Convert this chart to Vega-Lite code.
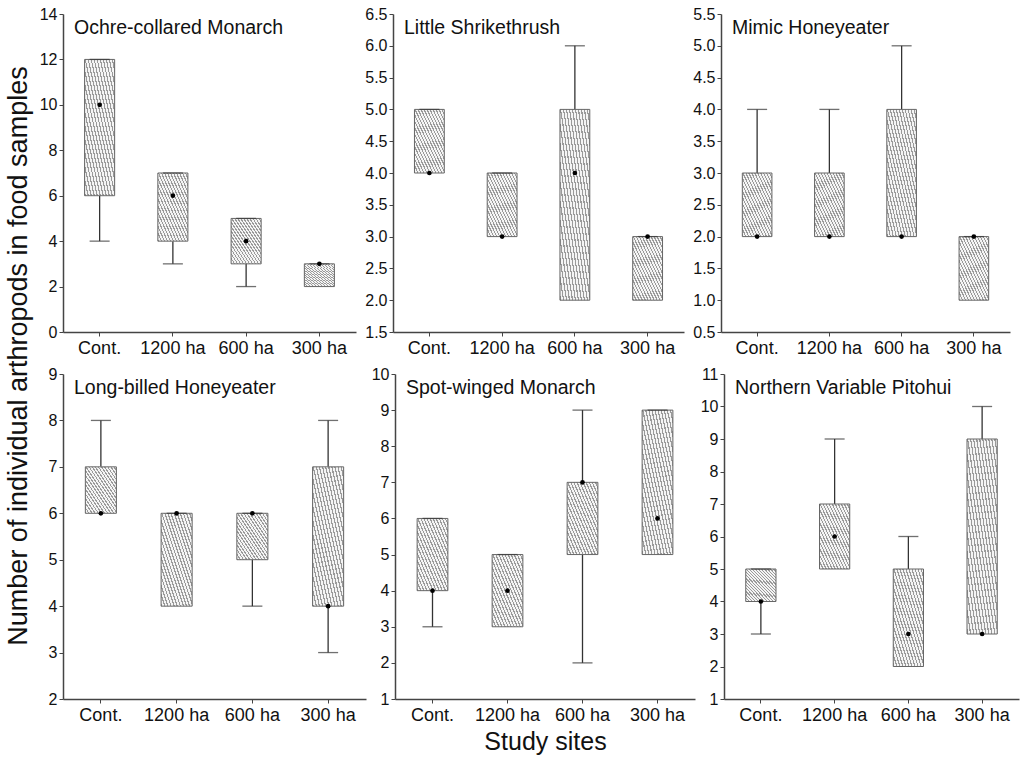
{
  "$schema": "https://vega.github.io/schema/vega-lite/v6.json",
  "background": "white",
  "padding": {"left": 5, "top": 6, "right": 5, "bottom": 5},
  "title": {"text": "Number of individual arthropods in food samples", "orient": "left", "anchor": "middle", "frame": "bounds", "fontSize": 27, "font": "Liberation Sans", "fontWeight": "normal", "color": "#111", "offset": 6, "dx": 24},
  "data": {"values": [
    {"species": "Ochre-collared Monarch", "site": "Cont.", "min": 4, "q1": 6, "median": 10, "q3": 12, "max": 12},
    {"species": "Ochre-collared Monarch", "site": "1200 ha", "min": 3, "q1": 4, "median": 6, "q3": 7, "max": 7},
    {"species": "Ochre-collared Monarch", "site": "600 ha", "min": 2, "q1": 3, "median": 4, "q3": 5, "max": 5},
    {"species": "Ochre-collared Monarch", "site": "300 ha", "min": 2, "q1": 2, "median": 3, "q3": 3, "max": 3},
    {"species": "Little Shrikethrush", "site": "Cont.", "min": 4, "q1": 4, "median": 4, "q3": 5, "max": 5},
    {"species": "Little Shrikethrush", "site": "1200 ha", "min": 3, "q1": 3, "median": 3, "q3": 4, "max": 4},
    {"species": "Little Shrikethrush", "site": "600 ha", "min": 2, "q1": 2, "median": 4, "q3": 5, "max": 6},
    {"species": "Little Shrikethrush", "site": "300 ha", "min": 2, "q1": 2, "median": 3, "q3": 3, "max": 3},
    {"species": "Mimic Honeyeater", "site": "Cont.", "min": 2, "q1": 2, "median": 2, "q3": 3, "max": 4},
    {"species": "Mimic Honeyeater", "site": "1200 ha", "min": 2, "q1": 2, "median": 2, "q3": 3, "max": 4},
    {"species": "Mimic Honeyeater", "site": "600 ha", "min": 2, "q1": 2, "median": 2, "q3": 4, "max": 5},
    {"species": "Mimic Honeyeater", "site": "300 ha", "min": 1, "q1": 1, "median": 2, "q3": 2, "max": 2},
    {"species": "Long-billed Honeyeater", "site": "Cont.", "min": 6, "q1": 6, "median": 6, "q3": 7, "max": 8},
    {"species": "Long-billed Honeyeater", "site": "1200 ha", "min": 4, "q1": 4, "median": 6, "q3": 6, "max": 6},
    {"species": "Long-billed Honeyeater", "site": "600 ha", "min": 4, "q1": 5, "median": 6, "q3": 6, "max": 6},
    {"species": "Long-billed Honeyeater", "site": "300 ha", "min": 3, "q1": 4, "median": 4, "q3": 7, "max": 8},
    {"species": "Spot-winged Monarch", "site": "Cont.", "min": 3, "q1": 4, "median": 4, "q3": 6, "max": 6},
    {"species": "Spot-winged Monarch", "site": "1200 ha", "min": 3, "q1": 3, "median": 4, "q3": 5, "max": 5},
    {"species": "Spot-winged Monarch", "site": "600 ha", "min": 2, "q1": 5, "median": 7, "q3": 7, "max": 9},
    {"species": "Spot-winged Monarch", "site": "300 ha", "min": 5, "q1": 5, "median": 6, "q3": 9, "max": 9},
    {"species": "Northern Variable Pitohui", "site": "Cont.", "min": 3, "q1": 4, "median": 4, "q3": 5, "max": 5},
    {"species": "Northern Variable Pitohui", "site": "1200 ha", "min": 5, "q1": 5, "median": 6, "q3": 7, "max": 9},
    {"species": "Northern Variable Pitohui", "site": "600 ha", "min": 2, "q1": 2, "median": 3, "q3": 5, "max": 6},
    {"species": "Northern Variable Pitohui", "site": "300 ha", "min": 3, "q1": 3, "median": 3, "q3": 9, "max": 10}
  ]},
  "spacing": 9,
  "vconcat": [
    {
      "spacing": 37,
      "bounds": "flush",
      "hconcat": [
        {
          "width": 293, "height": 318,
          "title": {"text": "Ochre-collared Monarch"},
          "transform": [{"filter": "datum.species === 'Ochre-collared Monarch'"}],
          "encoding": {"x": {"field": "site", "type": "nominal", "sort": ["Cont.", "1200 ha", "600 ha", "300 ha"], "scale": {"paddingInner": 0, "paddingOuter": 0}, "axis": {"title": null}}},
          "layer": [
            {"mark": {"type": "rule", "color": "#333", "strokeWidth": 1.3}, "encoding": {"y": {"field": "q3", "type": "quantitative", "scale": {"domain": [0, 14], "nice": false, "zero": false}, "axis": {"title": null, "values": [0, 2, 4, 6, 8, 10, 12, 14], "tickCount": 30, "format": "d"}}, "y2": {"field": "max"}}},
            {"mark": {"type": "rule", "color": "#333", "strokeWidth": 1.3}, "encoding": {"y": {"field": "min", "type": "quantitative"}, "y2": {"field": "q1"}}},
            {"mark": {"type": "bar", "width": {"band": 0.41}}, "encoding": {"y": {"field": "q1", "type": "quantitative"}, "y2": {"field": "q3"}}},
            {"mark": {"type": "tick", "orient": "horizontal", "size": 20, "thickness": 1.3, "color": "#333"}, "encoding": {"y": {"field": "max", "type": "quantitative"}}},
            {"transform": [{"filter": "datum.min < datum.q1"}], "mark": {"type": "tick", "orient": "horizontal", "size": 20, "thickness": 1.3, "color": "#333"}, "encoding": {"y": {"field": "min", "type": "quantitative"}}},
            {"mark": {"type": "point", "filled": true, "color": "#000", "size": 22, "opacity": 1}, "encoding": {"y": {"field": "median", "type": "quantitative"}}}
          ]
        },
        {
          "width": 291, "height": 318,
          "title": {"text": "Little Shrikethrush"},
          "transform": [{"filter": "datum.species === 'Little Shrikethrush'"}],
          "encoding": {"x": {"field": "site", "type": "nominal", "sort": ["Cont.", "1200 ha", "600 ha", "300 ha"], "scale": {"paddingInner": 0, "paddingOuter": 0}, "axis": {"title": null}}},
          "layer": [
            {"mark": {"type": "rule", "color": "#333", "strokeWidth": 1.3}, "encoding": {"y": {"field": "q3", "type": "quantitative", "scale": {"domain": [1.5, 6.5], "nice": false, "zero": false}, "axis": {"title": null, "values": [1.5, 2, 2.5, 3, 3.5, 4, 4.5, 5, 5.5, 6, 6.5], "tickCount": 30, "format": ".1f"}}, "y2": {"field": "max"}}},
            {"mark": {"type": "rule", "color": "#333", "strokeWidth": 1.3}, "encoding": {"y": {"field": "min", "type": "quantitative"}, "y2": {"field": "q1"}}},
            {"mark": {"type": "bar", "width": {"band": 0.41}}, "encoding": {"y": {"field": "q1", "type": "quantitative"}, "y2": {"field": "q3"}}},
            {"mark": {"type": "tick", "orient": "horizontal", "size": 20, "thickness": 1.3, "color": "#333"}, "encoding": {"y": {"field": "max", "type": "quantitative"}}},
            {"transform": [{"filter": "datum.min < datum.q1"}], "mark": {"type": "tick", "orient": "horizontal", "size": 20, "thickness": 1.3, "color": "#333"}, "encoding": {"y": {"field": "min", "type": "quantitative"}}},
            {"mark": {"type": "point", "filled": true, "color": "#000", "size": 22, "opacity": 1}, "encoding": {"y": {"field": "median", "type": "quantitative"}}}
          ]
        },
        {
          "width": 289, "height": 318,
          "title": {"text": "Mimic Honeyeater"},
          "transform": [{"filter": "datum.species === 'Mimic Honeyeater'"}],
          "encoding": {"x": {"field": "site", "type": "nominal", "sort": ["Cont.", "1200 ha", "600 ha", "300 ha"], "scale": {"paddingInner": 0, "paddingOuter": 0}, "axis": {"title": null}}},
          "layer": [
            {"mark": {"type": "rule", "color": "#333", "strokeWidth": 1.3}, "encoding": {"y": {"field": "q3", "type": "quantitative", "scale": {"domain": [0.5, 5.5], "nice": false, "zero": false}, "axis": {"title": null, "values": [0.5, 1, 1.5, 2, 2.5, 3, 3.5, 4, 4.5, 5, 5.5], "tickCount": 30, "format": ".1f"}}, "y2": {"field": "max"}}},
            {"mark": {"type": "rule", "color": "#333", "strokeWidth": 1.3}, "encoding": {"y": {"field": "min", "type": "quantitative"}, "y2": {"field": "q1"}}},
            {"mark": {"type": "bar", "width": {"band": 0.41}}, "encoding": {"y": {"field": "q1", "type": "quantitative"}, "y2": {"field": "q3"}}},
            {"mark": {"type": "tick", "orient": "horizontal", "size": 20, "thickness": 1.3, "color": "#333"}, "encoding": {"y": {"field": "max", "type": "quantitative"}}},
            {"transform": [{"filter": "datum.min < datum.q1"}], "mark": {"type": "tick", "orient": "horizontal", "size": 20, "thickness": 1.3, "color": "#333"}, "encoding": {"y": {"field": "min", "type": "quantitative"}}},
            {"mark": {"type": "point", "filled": true, "color": "#000", "size": 22, "opacity": 1}, "encoding": {"y": {"field": "median", "type": "quantitative"}}}
          ]
        }
      ]
    },
    {
      "spacing": 29,
      "bounds": "flush",
      "hconcat": [
        {
          "width": 303, "height": 325,
          "title": {"text": "Long-billed Honeyeater"},
          "transform": [{"filter": "datum.species === 'Long-billed Honeyeater'"}],
          "encoding": {"x": {"field": "site", "type": "nominal", "sort": ["Cont.", "1200 ha", "600 ha", "300 ha"], "scale": {"paddingInner": 0, "paddingOuter": 0}, "axis": {"title": null}}},
          "layer": [
            {"mark": {"type": "rule", "color": "#333", "strokeWidth": 1.3}, "encoding": {"y": {"field": "q3", "type": "quantitative", "scale": {"domain": [2, 9], "nice": false, "zero": false}, "axis": {"title": null, "values": [2, 3, 4, 5, 6, 7, 8, 9], "tickCount": 30, "format": "d"}}, "y2": {"field": "max"}}},
            {"mark": {"type": "rule", "color": "#333", "strokeWidth": 1.3}, "encoding": {"y": {"field": "min", "type": "quantitative"}, "y2": {"field": "q1"}}},
            {"mark": {"type": "bar", "width": {"band": 0.41}}, "encoding": {"y": {"field": "q1", "type": "quantitative"}, "y2": {"field": "q3"}}},
            {"mark": {"type": "tick", "orient": "horizontal", "size": 20, "thickness": 1.3, "color": "#333"}, "encoding": {"y": {"field": "max", "type": "quantitative"}}},
            {"transform": [{"filter": "datum.min < datum.q1"}], "mark": {"type": "tick", "orient": "horizontal", "size": 20, "thickness": 1.3, "color": "#333"}, "encoding": {"y": {"field": "min", "type": "quantitative"}}},
            {"mark": {"type": "point", "filled": true, "color": "#000", "size": 22, "opacity": 1}, "encoding": {"y": {"field": "median", "type": "quantitative"}}}
          ]
        },
        {
          "width": 300, "height": 325,
          "title": {"text": "Spot-winged Monarch"},
          "transform": [{"filter": "datum.species === 'Spot-winged Monarch'"}],
          "encoding": {"x": {"field": "site", "type": "nominal", "sort": ["Cont.", "1200 ha", "600 ha", "300 ha"], "scale": {"paddingInner": 0, "paddingOuter": 0}, "axis": {"title": "Study sites", "titleFontSize": 25, "titlePadding": 5}}},
          "layer": [
            {"mark": {"type": "rule", "color": "#333", "strokeWidth": 1.3}, "encoding": {"y": {"field": "q3", "type": "quantitative", "scale": {"domain": [1, 10], "nice": false, "zero": false}, "axis": {"title": null, "values": [1, 2, 3, 4, 5, 6, 7, 8, 9, 10], "tickCount": 30, "format": "d"}}, "y2": {"field": "max"}}},
            {"mark": {"type": "rule", "color": "#333", "strokeWidth": 1.3}, "encoding": {"y": {"field": "min", "type": "quantitative"}, "y2": {"field": "q1"}}},
            {"mark": {"type": "bar", "width": {"band": 0.41}}, "encoding": {"y": {"field": "q1", "type": "quantitative"}, "y2": {"field": "q3"}}},
            {"mark": {"type": "tick", "orient": "horizontal", "size": 20, "thickness": 1.3, "color": "#333"}, "encoding": {"y": {"field": "max", "type": "quantitative"}}},
            {"transform": [{"filter": "datum.min < datum.q1"}], "mark": {"type": "tick", "orient": "horizontal", "size": 20, "thickness": 1.3, "color": "#333"}, "encoding": {"y": {"field": "min", "type": "quantitative"}}},
            {"mark": {"type": "point", "filled": true, "color": "#000", "size": 22, "opacity": 1}, "encoding": {"y": {"field": "median", "type": "quantitative"}}}
          ]
        },
        {
          "width": 295, "height": 325,
          "title": {"text": "Northern Variable Pitohui"},
          "transform": [{"filter": "datum.species === 'Northern Variable Pitohui'"}],
          "encoding": {"x": {"field": "site", "type": "nominal", "sort": ["Cont.", "1200 ha", "600 ha", "300 ha"], "scale": {"paddingInner": 0, "paddingOuter": 0}, "axis": {"title": null}}},
          "layer": [
            {"mark": {"type": "rule", "color": "#333", "strokeWidth": 1.3}, "encoding": {"y": {"field": "q3", "type": "quantitative", "scale": {"domain": [1, 11], "nice": false, "zero": false}, "axis": {"title": null, "values": [1, 2, 3, 4, 5, 6, 7, 8, 9, 10, 11], "tickCount": 30, "format": "d"}}, "y2": {"field": "max"}}},
            {"mark": {"type": "rule", "color": "#333", "strokeWidth": 1.3}, "encoding": {"y": {"field": "min", "type": "quantitative"}, "y2": {"field": "q1"}}},
            {"mark": {"type": "bar", "width": {"band": 0.41}}, "encoding": {"y": {"field": "q1", "type": "quantitative"}, "y2": {"field": "q3"}}},
            {"mark": {"type": "tick", "orient": "horizontal", "size": 20, "thickness": 1.3, "color": "#333"}, "encoding": {"y": {"field": "max", "type": "quantitative"}}},
            {"transform": [{"filter": "datum.min < datum.q1"}], "mark": {"type": "tick", "orient": "horizontal", "size": 20, "thickness": 1.3, "color": "#333"}, "encoding": {"y": {"field": "min", "type": "quantitative"}}},
            {"mark": {"type": "point", "filled": true, "color": "#000", "size": 22, "opacity": 1}, "encoding": {"y": {"field": "median", "type": "quantitative"}}}
          ]
        }
      ]
    }
  ],
  "config": {
    "font": "Liberation Sans",
    "view": {"stroke": null},
    "bar": {
      "stroke": "#666",
      "strokeWidth": 1,
      "fill": {"gradient": "linear", "x1": 0, "y1": 1, "x2": 1, "y2": 0, "stops": [
        {"offset": 0, "color": "#9a9a9a"}, {"offset": 0.02, "color": "#9a9a9a"}, {"offset": 0.02, "color": "#f4f4f4"}, {"offset": 0.05, "color": "#f4f4f4"},
        {"offset": 0.05, "color": "#9a9a9a"}, {"offset": 0.07, "color": "#9a9a9a"}, {"offset": 0.07, "color": "#f4f4f4"}, {"offset": 0.1, "color": "#f4f4f4"},
        {"offset": 0.1, "color": "#9a9a9a"}, {"offset": 0.12, "color": "#9a9a9a"}, {"offset": 0.12, "color": "#f4f4f4"}, {"offset": 0.15, "color": "#f4f4f4"},
        {"offset": 0.15, "color": "#9a9a9a"}, {"offset": 0.17, "color": "#9a9a9a"}, {"offset": 0.17, "color": "#f4f4f4"}, {"offset": 0.2, "color": "#f4f4f4"},
        {"offset": 0.2, "color": "#9a9a9a"}, {"offset": 0.22, "color": "#9a9a9a"}, {"offset": 0.22, "color": "#f4f4f4"}, {"offset": 0.25, "color": "#f4f4f4"},
        {"offset": 0.25, "color": "#9a9a9a"}, {"offset": 0.27, "color": "#9a9a9a"}, {"offset": 0.27, "color": "#f4f4f4"}, {"offset": 0.3, "color": "#f4f4f4"},
        {"offset": 0.3, "color": "#9a9a9a"}, {"offset": 0.32, "color": "#9a9a9a"}, {"offset": 0.32, "color": "#f4f4f4"}, {"offset": 0.35, "color": "#f4f4f4"},
        {"offset": 0.35, "color": "#9a9a9a"}, {"offset": 0.37, "color": "#9a9a9a"}, {"offset": 0.37, "color": "#f4f4f4"}, {"offset": 0.4, "color": "#f4f4f4"},
        {"offset": 0.4, "color": "#9a9a9a"}, {"offset": 0.42, "color": "#9a9a9a"}, {"offset": 0.42, "color": "#f4f4f4"}, {"offset": 0.45, "color": "#f4f4f4"},
        {"offset": 0.45, "color": "#9a9a9a"}, {"offset": 0.47, "color": "#9a9a9a"}, {"offset": 0.47, "color": "#f4f4f4"}, {"offset": 0.5, "color": "#f4f4f4"},
        {"offset": 0.5, "color": "#9a9a9a"}, {"offset": 0.52, "color": "#9a9a9a"}, {"offset": 0.52, "color": "#f4f4f4"}, {"offset": 0.55, "color": "#f4f4f4"},
        {"offset": 0.55, "color": "#9a9a9a"}, {"offset": 0.57, "color": "#9a9a9a"}, {"offset": 0.57, "color": "#f4f4f4"}, {"offset": 0.6, "color": "#f4f4f4"},
        {"offset": 0.6, "color": "#9a9a9a"}, {"offset": 0.62, "color": "#9a9a9a"}, {"offset": 0.62, "color": "#f4f4f4"}, {"offset": 0.65, "color": "#f4f4f4"},
        {"offset": 0.65, "color": "#9a9a9a"}, {"offset": 0.67, "color": "#9a9a9a"}, {"offset": 0.67, "color": "#f4f4f4"}, {"offset": 0.7, "color": "#f4f4f4"},
        {"offset": 0.7, "color": "#9a9a9a"}, {"offset": 0.72, "color": "#9a9a9a"}, {"offset": 0.72, "color": "#f4f4f4"}, {"offset": 0.75, "color": "#f4f4f4"},
        {"offset": 0.75, "color": "#9a9a9a"}, {"offset": 0.77, "color": "#9a9a9a"}, {"offset": 0.77, "color": "#f4f4f4"}, {"offset": 0.8, "color": "#f4f4f4"},
        {"offset": 0.8, "color": "#9a9a9a"}, {"offset": 0.82, "color": "#9a9a9a"}, {"offset": 0.82, "color": "#f4f4f4"}, {"offset": 0.85, "color": "#f4f4f4"},
        {"offset": 0.85, "color": "#9a9a9a"}, {"offset": 0.87, "color": "#9a9a9a"}, {"offset": 0.87, "color": "#f4f4f4"}, {"offset": 0.9, "color": "#f4f4f4"},
        {"offset": 0.9, "color": "#9a9a9a"}, {"offset": 0.92, "color": "#9a9a9a"}, {"offset": 0.92, "color": "#f4f4f4"}, {"offset": 0.95, "color": "#f4f4f4"},
        {"offset": 0.95, "color": "#9a9a9a"}, {"offset": 0.97, "color": "#9a9a9a"}, {"offset": 0.97, "color": "#f4f4f4"}, {"offset": 1, "color": "#f4f4f4"}
      ]}
    },
    "axis": {"domainColor": "#444", "domainWidth": 1.5, "tickColor": "#444", "tickSize": 4, "tickWidth": 1, "labelColor": "#111", "labelFont": "Liberation Sans", "labelOverlap": false, "grid": false, "titleFont": "Liberation Sans", "titleFontWeight": "normal", "titleColor": "#111"},
    "axisX": {"labelFontSize": 18, "labelPadding": 3, "labelAngle": 0},
    "axisY": {"labelFontSize": 16, "labelPadding": 2},
    "title": {"font": "Liberation Sans", "fontWeight": "normal", "fontSize": 19.5, "anchor": "start", "frame": "group", "color": "#111", "offset": -32, "dx": 11}
  }
}
